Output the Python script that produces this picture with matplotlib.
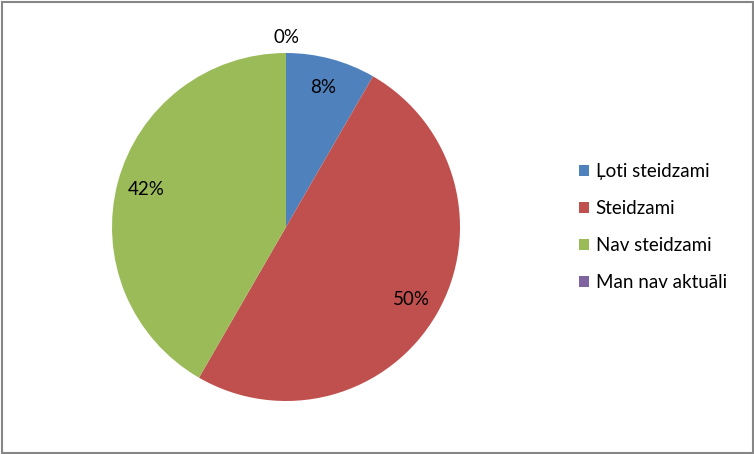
import matplotlib
matplotlib.use("Agg")
import matplotlib.pyplot as plt
from matplotlib.patches import Rectangle, Patch

categories = ["Ļoti steidzami", "Steidzami", "Nav steidzami", "Man nav aktuāli"]
values = [1, 6, 5, 0]
colors = ["#4F81BD", "#C0504D", "#9BBB59", "#8064A2"]

plt.rcParams['font.family'] = ['Lato', 'DejaVu Sans']

W, H = 754, 454
fig = plt.figure(figsize=(W / 100, H / 100), dpi=100)

# pie axes: center (286,227), radius 174 px
cx, cy, r = 286, 227, 174
ax = fig.add_axes([(cx - r) / W, 1 - (cy + r) / H, 2 * r / W, 2 * r / H])
wedges, texts, autotexts = ax.pie(values, colors=colors, startangle=90, counterclock=False,
                                  autopct=lambda p: f"{p:.0f}%", pctdistance=0.83,
                                  radius=1, wedgeprops=dict(linewidth=0))
for v, t in zip(values, autotexts):
    t.set_fontsize(13.5)
    t.set_color("black")
    if v == 0:
        t.set_position((0, 1.09))
        t.set_va("center")
ax.set_xlim(-1, 1)
ax.set_ylim(-1, 1)
ax.set_aspect("equal")
ax.axis("off")

handles = [Patch(facecolor=c, edgecolor="none") for c in colors]
fig.legend(handles, categories, loc="upper left", bbox_to_anchor=(562 / W, 1 - 146 / H),
           frameon=False, fontsize=13.5, handlelength=0.55, handleheight=0.55,
           handletextpad=0.35, labelspacing=1.07)

fig.patches.append(Rectangle((1.5, 1.5), W - 3, H - 3, transform=None, fill=False,
                             edgecolor="#868686", linewidth=1.5))

fig.savefig("out.png", dpi=100)
